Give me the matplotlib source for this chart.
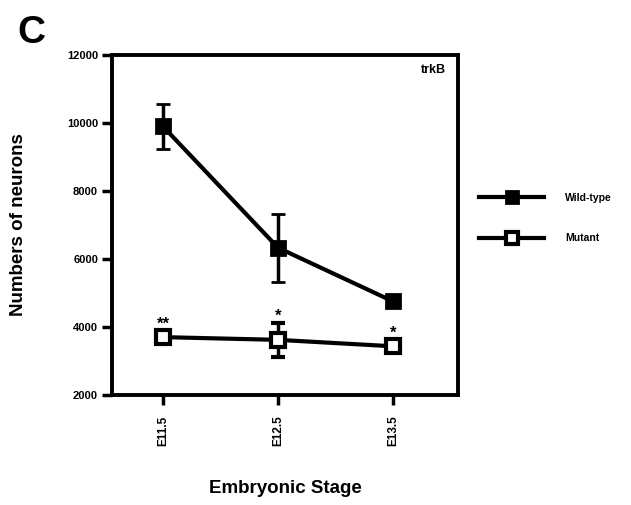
import numpy as np
import matplotlib.pyplot as plt
from matplotlib.lines import Line2D

# --- data ---
stages = ["E11.5", "E12.5", "E13.5"]
wild_type = [9900, 6330, 4750]
wild_type_err = [660, 1000, 130]
mutant = [3700, 3620, 3430]
mutant_err = [170, 500, 180]
stars = ["**", "*", "*"]

plt.rcParams['font.family'] = ['Liberation Sans', 'DejaVu Sans']
plt.rcParams['font.weight'] = 'bold'

fig = plt.figure(figsize=(6.31, 5.05), dpi=100)
ax = fig.add_axes([0.1775, 0.218, 0.5485, 0.673])

x = np.arange(len(stages))
ax.errorbar(x, wild_type, yerr=wild_type_err, color='black', lw=3,
            marker='s', ms=10, mfc='black', mec='black', mew=2,
            elinewidth=2.5, capsize=5, capthick=3.5)
ax.errorbar(x, mutant, yerr=mutant_err, color='black', lw=3,
            marker='s', ms=10, mfc='white', mec='black', mew=3,
            elinewidth=2.5, capsize=5, capthick=3.5)
for xi, m, e, s in zip(x, mutant, mutant_err, stars):
    ax.text(xi, m + e - 20, s, ha='center', va='bottom', fontsize=12,
            fontweight='bold')

ax.set_xlim(-0.443, 2.565)
ax.set_ylim(2000, 12000)
ax.set_yticks([2000, 4000, 6000, 8000, 10000, 12000])
ax.set_yticklabels(['2000', '4000', '6000', '8000', '10000', '12000'],
                   fontsize=8, fontweight='bold')
ax.set_xticks(x)
ax.set_xticklabels(stages, rotation=90, fontsize=8.5, fontweight='bold')
ax.tick_params(direction='out', width=2.5, length=7, pad=3)
ax.tick_params(axis='x', pad=8)

for sp in ax.spines.values():
    sp.set_linewidth(2.8)

ax.text(0.965, 0.955, "trkB", transform=ax.transAxes, ha='right',
        va='center', fontsize=9, fontweight='bold')

ax.set_ylabel("Numbers of neurons", fontsize=13.5, fontweight='bold',
              labelpad=29)
ax.set_xlabel("Embryonic Stage", fontsize=13.5, fontweight='bold',
              labelpad=24)

fig.text(0.028, 0.935, "C", fontsize=28, fontweight='bold', ha='left',
         va='center')

handles = [
    Line2D([], [], color='black', lw=3, marker='s', ms=9, mfc='black',
           mec='black', mew=2),
    Line2D([], [], color='black', lw=3, marker='s', ms=9, mfc='white',
           mec='black', mew=3),
]
fig.legend(handles, ["Wild-type", "Mutant"], loc='center left',
           bbox_to_anchor=(0.745, 0.568), frameon=False, fontsize=7.5,
           handlelength=6.2, handletextpad=2.0, labelspacing=2.9)

fig.savefig("out.png", dpi=100)
